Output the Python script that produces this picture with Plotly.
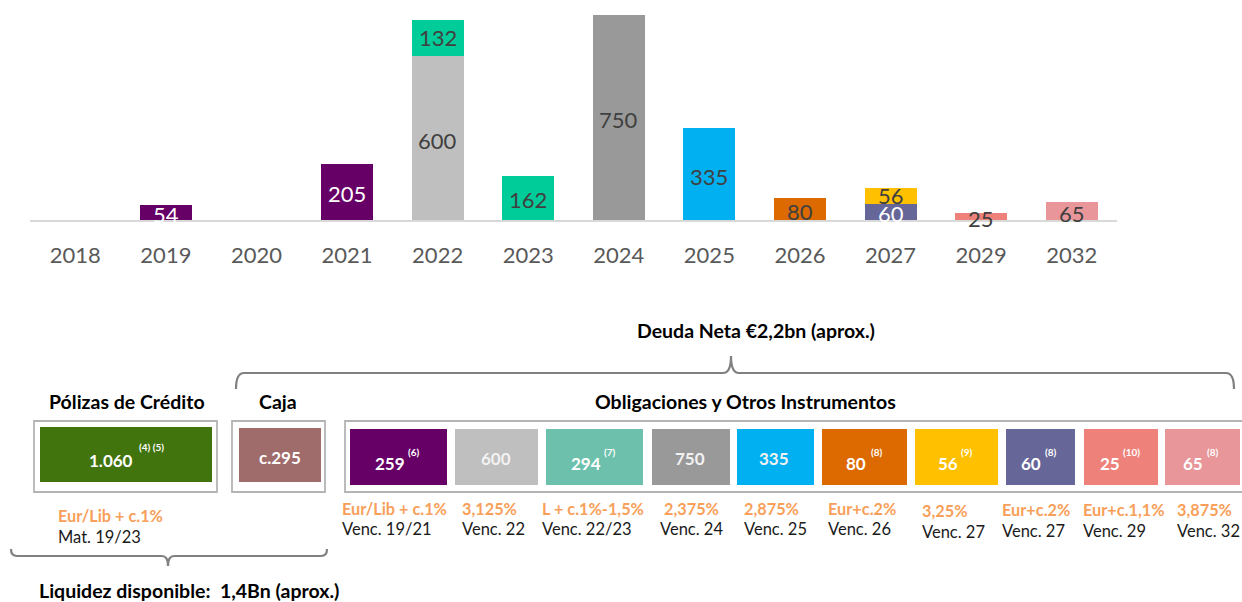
import plotly.graph_objects as go

# ---------------- data ----------------
years = ['2018', '2019', '2020', '2021', '2022', '2023', '2024', '2025', '2026', '2027', '2029', '2032']
base_vals = [0, 54, 0, 205, 600, 162, 750, 335, 80, 60, 25, 65]
top_vals = [0, 0, 0, 0, 132, 0, 0, 0, 0, 56, 0, 0]
base_colors = ['#660066', '#660066', '#660066', '#660066', '#BFBFBF', '#00CC99', '#999999',
               '#00B0F0', '#DD6A00', '#666699', '#EE827A', '#E8969A']
top_colors = ['#00CC99'] * 9 + ['#FFC000'] + ['#00CC99'] * 2
base_label_colors = ['#404040', '#FFFFFF', '#404040', '#FFFFFF', '#404040', '#404040', '#404040',
                     '#404040', '#404040', '#FFFFFF', '#404040', '#404040']
top_label_colors = ['#404040'] * 12

credit_value = '1.060'
credit_note = '(4) (5)'
credit_rate = 'Eur/Lib + c.1%'
credit_mat = 'Mat. 19/23'
cash_value = 'c.295'

obl_values = ['259', '600', '294', '750', '335', '80', '56', '60', '25', '65']
obl_notes = ['(6)', '', '(7)', '', '', '(8)', '(9)', '(8)', '(10)', '(8)']
obl_rates = ['Eur/Lib + c.1%', '3,125%', 'L + c.1%-1,5%', '2,375%', '2,875%', 'Eur+c.2%',
             '3,25%', 'Eur+c.2%', 'Eur+c.1,1%', '3,875%']
obl_venc = ['Venc. 19/21', 'Venc. 22', 'Venc. 22/23', 'Venc. 24', 'Venc. 25', 'Venc. 26',
            'Venc. 27', 'Venc. 27', 'Venc. 29', 'Venc. 32']
obl_colors = ['#660066', '#BFBFBF', '#6CC0AC', '#999999', '#00B0F0', '#DD6A00', '#FFC000',
              '#666699', '#EE827A', '#E8969A']

title_deuda = 'Deuda Neta €2,2bn (aprox.)'
title_polizas = 'Pólizas de Crédito'
title_caja = 'Caja'
title_obl = 'Obligaciones y Otros Instrumentos'
title_liquidez = 'Liquidez disponible:  1,4Bn (aprox.)'

# ---------------- layout helpers ----------------
W, H = 1242, 602
FONT = 'Lato'


def X(px):
    return px / W


def Y(py):
    return 1 - py / H


fig = go.Figure()
fig.add_trace(go.Bar(x=years, y=base_vals, marker=dict(color=base_colors, line=dict(width=0)),
                     hoverinfo='skip', showlegend=False))
fig.add_trace(go.Bar(x=years, y=top_vals, marker=dict(color=top_colors, line=dict(width=0)),
                     hoverinfo='skip', showlegend=False))

annotations = []
# bar value labels (x given as category index)
for i, (b, t, cb, ct) in enumerate(zip(base_vals, top_vals, base_label_colors, top_label_colors)):
    if b:
        annotations.append(dict(x=i, y=b / 2, xref='x', yref='y', text=str(b), showarrow=False,
                                yshift=-2, font=dict(family=FONT, size=22, color=cb)))
    if t:
        annotations.append(dict(x=i, y=b + t / 2, xref='x', yref='y', text=str(t), showarrow=False,
                                font=dict(family=FONT, size=22, color=ct)))

shapes = []


def rect(x0, y0, x1, y1, fill=None, line=None, lw=0):
    shapes.append(dict(type='rect', xref='paper', yref='paper', x0=X(x0), x1=X(x1), y0=Y(y1), y1=Y(y0),
                       fillcolor=fill if fill else 'rgba(0,0,0,0)',
                       line=dict(color=line if line else 'rgba(0,0,0,0)', width=lw), layer='above'))


def text(px, py, s, size, color='#000000', bold=False, anchor='center'):
    annotations.append(dict(x=X(px), y=Y(py), xref='paper', yref='paper', text=s, showarrow=False,
                            xanchor=anchor, yanchor='middle',
                            font=dict(family=FONT, size=size, color=color,
                                      weight=700 if bold else 400)))


def path(pts):
    d = ''
    for cmd, coords in pts:
        d += cmd + ' ' + ' '.join(f'{X(a):.5f},{Y(b):.5f}' for a, b in coords) + ' '
    shapes.append(dict(type='path', xref='paper', yref='paper', path=d.strip(),
                       line=dict(color='#808080', width=2.2), layer='above'))


# brackets
path([('M', [(236, 389)]), ('Q', [(236, 373), (244, 373)]), ('L', [(723, 373)]),
      ('Q', [(731, 373), (731, 356)]), ('Q', [(731, 373), (739, 373)]), ('L', [(1226, 373)]),
      ('Q', [(1234, 373), (1234, 389)])])
path([('M', [(11, 549)]), ('Q', [(11, 556), (17, 556)]), ('L', [(162, 556)]),
      ('Q', [(168, 556), (168, 566)]), ('Q', [(168, 556), (174, 556)]), ('L', [(321, 556)]),
      ('Q', [(327, 556), (327, 549)])])

# titles
text(756, 330, title_deuda, 19.5, '#000000', True)
text(127, 401, title_polizas, 19.5, '#000000', True)
text(278, 401, title_caja, 19.5, '#000000', True)
text(745, 401, title_obl, 19.5, '#000000', True)
text(37, 590, title_liquidez, 19.5, '#000000', True, 'left')

ORANGE = '#F8A05A'
DARK = '#1A1A1A'
BORDER = '#B4B4B4'

# Pólizas de crédito
rect(34, 421, 217, 492, None, BORDER, 1.8)
rect(40, 427, 212, 482, '#41740C')
text(111, 460, credit_value, 17, '#FFFFFF', True)
text(151, 447, credit_note, 10, '#FFFFFF', True)
text(56, 515, credit_rate, 16.3, ORANGE, True, 'left')
text(56, 537, credit_mat, 16.5, DARK, False, 'left')

# Caja
rect(232, 421, 325, 492, None, BORDER, 1.8)
rect(239, 428, 321, 482, '#A06B6B')
text(280, 457, cash_value, 17, '#FFFFFF', True)

# Obligaciones
shapes.append(dict(type='path', xref='paper', yref='paper',
                   path=f'M {X(1260):.5f},{Y(421):.5f} L {X(345):.5f},{Y(421):.5f} '
                        f'L {X(345):.5f},{Y(492):.5f} L {X(1260):.5f},{Y(492):.5f}',
                   line=dict(color=BORDER, width=1.8), layer='above'))
box_x = [(350, 447), (455, 538), (546, 643), (652, 730), (737, 814), (822, 907), (915, 998),
         (1006, 1075), (1084, 1158), (1165, 1240)]
num_x = [390, 496, 586, 690, 774, 856, 948, 1031, 1110, 1193]
note_x = [414, 0, 610, 0, 0, 877, 967, 1051, 1131, 1213]
rate_x = [340, 460, 540, 662, 742, 826, 920, 1000, 1081, 1175]
venc_x = [340, 460, 540, 658, 742, 826, 920, 1000, 1081, 1175]
rate_y = [508, 508, 508, 508, 508, 508, 510, 509, 509, 509]
venc_y = [529, 529, 529, 529, 529, 529, 532, 531, 531, 531]
for i in range(len(obl_values)):
    x0, x1 = box_x[i]
    rect(x0, 429, x1, 485, obl_colors[i])
    if obl_notes[i]:
        text(num_x[i], 463, obl_values[i], 17, '#FFFFFF', True)
        text(note_x[i], 452, obl_notes[i], 10, '#FFFFFF', True)
    else:
        text(num_x[i], 458, obl_values[i], 17, '#F2F2F2', True)
    text(rate_x[i], rate_y[i], obl_rates[i], 16.3, ORANGE, True, 'left')
    text(venc_x[i], venc_y[i], obl_venc[i], 16.5, DARK, False, 'left')

fig.update_layout(
    width=W, height=H,
    margin=dict(l=0, r=0, t=0, b=0),
    paper_bgcolor='#FFFFFF', plot_bgcolor='rgba(0,0,0,0)',
    barmode='stack', bargap=0.426,
    showlegend=False,
    font=dict(family=FONT),
    xaxis=dict(domain=[X(30), X(1117)], type='category', range=[-0.5, 11.5],
               showline=True, linecolor='#D9D9D9', linewidth=2, showgrid=False, zeroline=False,
               ticks='', tickfont=dict(family=FONT, size=22, color='#595959'),
               ticklabelstandoff=15, fixedrange=True),
    yaxis=dict(domain=[Y(220), 1], range=[0, 805], visible=False, showgrid=False,
               zeroline=False, fixedrange=True),
    shapes=shapes,
    annotations=annotations,
)

fig.write_html('out.html', config={'displayModeBar': False},
               post_script="document.body.style.margin='0px';document.body.style.overflow='hidden';")
